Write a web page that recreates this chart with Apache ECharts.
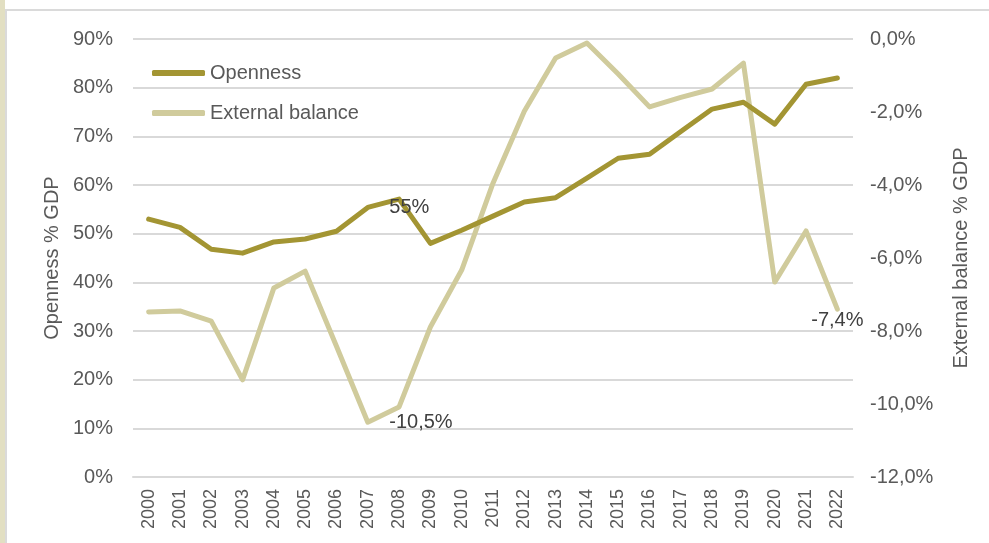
<!DOCTYPE html>
<html>
<head>
<meta charset="utf-8">
<title>Openness and external balance</title>
<script src="https://cdn.jsdelivr.net/npm/echarts@6/dist/echarts.min.js"></script>
<style>
  html, body { margin: 0; padding: 0; background: #ffffff; }
  #chart { width: 989px; height: 543px; }
</style>
</head>
<body>
<div id="chart"></div>
<script>
// Years on the category axis
const years = ['2000','2001','2002','2003','2004','2005','2006','2007','2008','2009','2010',
               '2011','2012','2013','2014','2015','2016','2017','2018','2019','2020','2021','2022'];

// Trade openness, % of GDP (left axis)
const openness = [53.0, 51.3, 46.8, 46.0, 48.3, 48.9, 50.5, 55.4, 57.1, 48.0, 50.7,
                  53.6, 56.5, 57.4, 61.4, 65.5, 66.3, 71.0, 75.6, 77.0, 72.5, 80.7, 82.0];

// External balance, % of GDP (right axis)
const externalBalance = [-7.48, -7.45, -7.73, -9.34, -6.82, -6.36, -8.42, -10.5, -10.08, -7.89, -6.33,
                         -3.95, -1.98, -0.52, -0.11, -0.96, -1.86, -1.60, -1.37, -0.66, -6.66, -5.26, -7.4];

// Left and right axis ranges
const leftAxis = { min: 0, max: 90, interval: 10 };
const rightAxis = { min: -12, max: 0, interval: 2 };

// Points that carry a value label: [series, index, position]
const labelledPoints = [
  ['openness', 7, 'right'],
  ['external', 7, 'right'],
  ['external', 22, 'bottom']
];

const colOpen = '#a39533';
const colExt = '#d0cb9c';
const txt = '#595959';
const fontFamily = '"Liberation Sans", Arial, sans-serif';

function fmtLeft(v) { return Math.round(v) + '%'; }
function fmtRight(v) { return v.toFixed(1).replace('.', ',') + '%'; }

// Value labels ride on tiny symbols hidden under the 5px line
function buildData(values, key, fmt) {
  return values.map((v, i) => {
    const hit = labelledPoints.find(p => p[0] === key && p[1] === i);
    if (!hit) return v;
    return {
      value: v,
      label: {
        show: true,
        position: hit[2],
        distance: hit[2] === 'right' ? 21 : 1,
        formatter: () => fmt(v),
        color: '#404040',
        fontSize: 20,
        fontFamily: fontFamily
      }
    };
  });
}

const chart = echarts.init(document.getElementById('chart'), null, { renderer: 'canvas' });

chart.setOption({
  backgroundColor: '#ffffff',
  animation: false,
  textStyle: { fontFamily: fontFamily },
  graphic: [
    // frame: beige strip on the left and thin grey rules
    { type: 'rect', shape: { x: 0, y: 0, width: 5, height: 543 }, style: { fill: '#e2dfc2' }, silent: true },
    { type: 'rect', shape: { x: 5, y: 9, width: 2, height: 534 }, style: { fill: '#dadada' }, silent: true },
    { type: 'rect', shape: { x: 5, y: 9, width: 984, height: 2 }, style: { fill: '#dadada' }, silent: true }
  ],
  legend: {
    orient: 'vertical',
    left: 152,
    top: 62,
    padding: 0,
    itemWidth: 53,
    itemHeight: 6,
    itemGap: 18,
    icon: 'roundRect',
    textStyle: { color: txt, fontSize: 20, lineHeight: 22, fontFamily: fontFamily },
    data: ['Openness', 'External balance']
  },
  grid: { left: 133, right: 136, top: 39, bottom: 66, containLabel: false },
  xAxis: {
    type: 'category',
    data: years,
    boundaryGap: true,
    axisLine: { show: true, lineStyle: { color: '#d9d9d9', width: 2 } },
    axisTick: { show: false },
    axisLabel: { rotate: 90, margin: 12, color: txt, fontSize: 18, fontFamily: fontFamily, interval: 0 }
  },
  yAxis: [
    {
      type: 'value',
      min: leftAxis.min, max: leftAxis.max, interval: leftAxis.interval,
      name: 'Openness % GDP',
      nameLocation: 'middle',
      nameGap: 69,
      nameTextStyle: { color: txt, fontSize: 20, fontFamily: fontFamily },
      axisLine: { show: false },
      axisTick: { show: false },
      axisLabel: { formatter: fmtLeft, color: txt, fontSize: 20, margin: 20, fontFamily: fontFamily },
      splitLine: { show: true, lineStyle: { color: '#d9d9d9', width: 2 } }
    },
    {
      type: 'value',
      min: rightAxis.min, max: rightAxis.max, interval: rightAxis.interval,
      name: 'External balance % GDP',
      nameLocation: 'middle',
      nameGap: 98,
      nameTextStyle: { color: txt, fontSize: 20, fontFamily: fontFamily },
      axisLine: { show: false },
      axisTick: { show: false },
      axisLabel: { formatter: fmtRight, color: txt, fontSize: 20, margin: 17, fontFamily: fontFamily },
      splitLine: { show: false }
    }
  ],
  series: [
    {
      name: 'Openness',
      type: 'line',
      yAxisIndex: 0,
      data: buildData(openness, 'openness', fmtLeft),
      symbol: 'circle',
      symbolSize: 1,
      showSymbol: true,
      itemStyle: { color: colOpen },
      z: 3,
      color: colOpen,
      lineStyle: { color: colOpen, width: 5, cap: 'round', join: 'round' }
    },
    {
      name: 'External balance',
      type: 'line',
      yAxisIndex: 1,
      data: buildData(externalBalance, 'external', fmtRight),
      symbol: 'circle',
      symbolSize: 1,
      showSymbol: true,
      itemStyle: { color: colExt },
      z: 2,
      color: colExt,
      lineStyle: { color: colExt, width: 5, cap: 'round', join: 'round' }
    }
  ]
});
</script>
</body>
</html>
